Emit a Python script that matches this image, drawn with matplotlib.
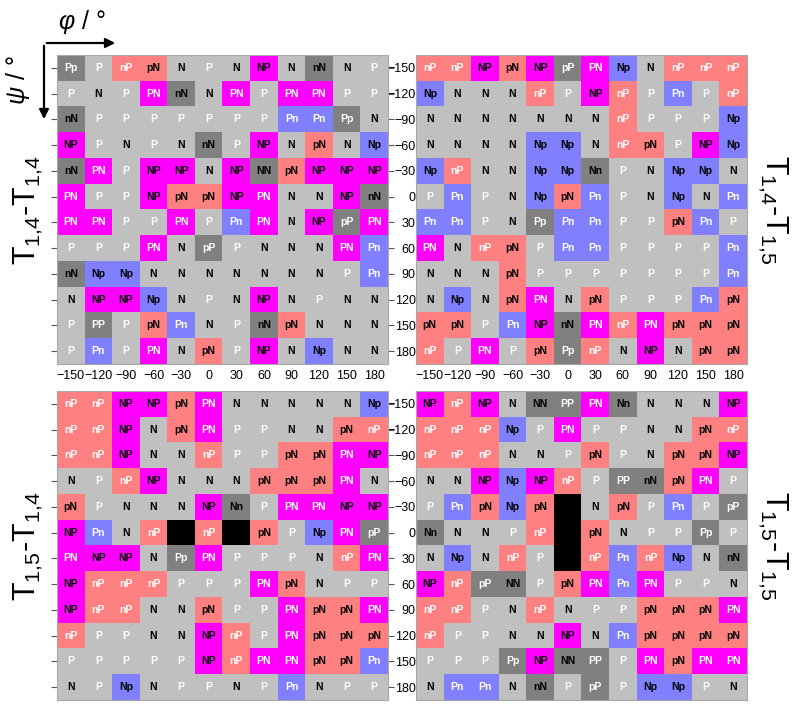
import matplotlib
matplotlib.use('Agg')
import matplotlib.pyplot as plt
import numpy as np

plt.rcParams['font.family'] = ['Liberation Sans', 'DejaVu Sans']
plt.rcParams['mathtext.fontset'] = 'custom'
plt.rcParams['mathtext.rm'] = 'Liberation Sans'
plt.rcParams['mathtext.it'] = 'Liberation Sans:italic'

# dihedral angles (degrees); rows are psi (-150 at top), columns are phi
phi = [-150, -120, -90, -60, -30, 0, 30, 60, 90, 120, 150, 180]
psi = [-150, -120, -90, -60, -30, 0, 30, 60, 90, 120, 150, 180]
tick_labels = ['\u2212150', '\u2212120', '\u221290', '\u221260', '\u221230',
               '0', '30', '60', '90', '120', '150', '180']

# '.' marks a cell with no data (drawn black)
t14_t14 = [
    'Pp P nP pN N P N NP N nN N P',
    'P N P PN nN N PN P PN PN P P',
    'nN P P P P P P P Pn Pn Pp N',
    'NP P N P N nN P NP N pN N Np',
    'nN PN P NP NP N NP NN pN NP NP NP',
    'PN P P NP pN pN NP PN N N NP nN',
    'PN PN P P PN P Pn PN N NP pP PN',
    'P P P PN N pP P N N N PN Pn',
    'nN Np Np N N N N N N N P Pn',
    'N NP NP Np N P N NP N P N N',
    'P PP P pN Pn N P nN pN N N N',
    'P Pn P PN N pN P NP N Np N N',
]
t14_t15 = [
    'nP nP NP pN NP pP PN Np N nP nP nP',
    'Np N N N nP P NP nP P Pn P nP',
    'N N N N N N N nP P P P Np',
    'N N N N Np Np N nP pN P NP Np',
    'Np nP N N Np Np Nn P N Np Np N',
    'P Pn P N Np pN Pn P N Np N Pn',
    'Pn Pn P N Pp Pn Pn P P pN Pn P',
    'PN N nP pN P Pn Pn P P P P Pn',
    'N N N pN P P P P P P P Pn',
    'N Np N pN PN N pN P P P Pn pN',
    'pN pN P Pn NP nN PN nP PN pN pN pN',
    'nP P PN P pN Pp nP N NP N pN pN',
]
t15_t14 = [
    'nP nP NP NP pN PN N N N N N Np',
    'nP nP NP N pN PN P P N N pN nP',
    'nP nP NP N N nP P P pN pN PN NP',
    'N P nP NP N N N pN pN pN PN N',
    'pN P N N N NP Nn P PN PN NP NP',
    'NP Pn N nP . nP . pN P Np PN pP',
    'PN NP NP N Pp PN P P P N nP PN',
    'NP nP nP nP P P P PN pN N P P',
    'NP nP nP N N pN P P PN pN pN PN',
    'nP P P N N NP nP P PN pN pN pN',
    'P P P P P NP nP PN PN pN pN Pn',
    'N P Np N P P N P Pn N P P',
]
t15_t15 = [
    'NP nP NP N NN PP PN Nn N N N NP',
    'nP nP nP Np P PN P P N N pN nP',
    'nP nP nP N N P pN P N pN pN NP',
    'N N NP Np NP nP P PP nN pN PN P',
    'P Pn pN Np pN . N pN P Pn P pP',
    'Nn N N P nP . pN N P P Pp P',
    'N Np N nP P . nP Pn nP Np N nN',
    'NP nP pP NN P pN PN Pn PN P P N',
    'nP nP P N nP N P P pN pN pN PN',
    'nP P P N N NP N Pn pN pN pN pN',
    'P P P Pp NP NN PP P PN pN PN PN',
    'N Pn Pn N nN P pP P Np Np P N',
]


def cell_style(lab):
    if lab == '.':
        return '#000000', 'k'
    txt = 'white' if [c for c in lab if c.isupper()][0] == 'P' else 'black'
    if len(lab) == 1:
        return '#C0C0C0', txt
    if lab[0].lower() == lab[1].lower():
        return '#808080', txt
    if lab[0].islower():
        return '#FF8080', txt
    if lab[1].isupper():
        return '#FF00FF', txt
    return '#8080FF', txt


def draw_panel(ax, rows):
    grid = [r.split() for r in rows]
    rgb = np.zeros((12, 12, 3))
    for i, row in enumerate(grid):
        for j, lab in enumerate(row):
            bg, fg = cell_style(lab)
            rgb[i, j] = matplotlib.colors.to_rgb(bg)
            if lab != '.':
                ax.text(phi[j], psi[i], lab, ha='center', va='center',
                        fontsize=7.5, fontweight='bold', color=fg)
    ax.imshow(rgb, extent=[-165, 195, 195, -165], aspect='auto',
              interpolation='nearest')
    ax.set_xticks(phi)
    ax.set_yticks(psi)
    ax.tick_params(length=0, labelbottom=False, labelleft=False)
    for s in ax.spines.values():
        s.set_color('#A8A8A8')
        s.set_linewidth(0.8)


fig = plt.figure(figsize=(7.97, 7.09), dpi=100)
W, H = 797.0, 709.0


def px_axes(x0, y0, x1, y1):
    return fig.add_axes([x0 / W, 1 - y1 / H, (x1 - x0) / W, (y1 - y0) / H])


ax_tl = px_axes(57, 55, 388, 364)
ax_tr = px_axes(416, 55, 747, 364)
ax_bl = px_axes(57, 391, 388, 700)
ax_br = px_axes(416, 391, 747, 700)

draw_panel(ax_tl, t14_t14)
draw_panel(ax_tr, t14_t15)
draw_panel(ax_bl, t15_t14)
draw_panel(ax_br, t15_t15)

# phi labels under the top panels
for ax in (ax_tl, ax_tr):
    ax.tick_params(axis='x', labelbottom=True, pad=4, labelsize=9)
    ax.set_xticklabels(tick_labels)

# psi labels between the left and right panels
for ax in (ax_tl, ax_bl):
    ax.tick_params(axis='y', right=True, labelright=True, length=4,
                   width=0.8, color='#555555', pad=16, labelsize=9)
    ax.set_yticklabels(tick_labels)
    for t in ax.get_yticklabels():
        t.set_horizontalalignment('right')

# panel names
ts = 22
fig.text(28 / W, 1 - 210 / H, r'$\mathregular{T_{1{,}4}}$-$\mathregular{T_{1{,}4}}$',
         rotation=90, ha='center', va='center', fontsize=ts)
fig.text(28 / W, 1 - 546 / H, r'$\mathregular{T_{1{,}5}}$-$\mathregular{T_{1{,}4}}$',
         rotation=90, ha='center', va='center', fontsize=ts)
fig.text(773 / W, 1 - 210 / H, r'$\mathregular{T_{1{,}4}}$-$\mathregular{T_{1{,}5}}$',
         rotation=-90, ha='center', va='center', fontsize=ts)
fig.text(773 / W, 1 - 546 / H, r'$\mathregular{T_{1{,}5}}$-$\mathregular{T_{1{,}5}}$',
         rotation=-90, ha='center', va='center', fontsize=ts)

# axis arrows in the corner
fig.add_artist(matplotlib.patches.FancyArrowPatch(
    (44 / W, 1 - 43 / H), (118 / W, 1 - 43 / H), transform=fig.transFigure,
    arrowstyle='-|>', mutation_scale=14, lw=1.6, color='k'))
fig.add_artist(matplotlib.patches.FancyArrowPatch(
    (44 / W, 1 - 43 / H), (44 / W, 1 - 122 / H), transform=fig.transFigure,
    arrowstyle='-|>', mutation_scale=14, lw=1.6, color='k'))
fig.text(82 / W, 1 - 22 / H, r'$\varphi$ / °', ha='center', va='center',
         fontsize=18)
fig.text(18 / W, 1 - 80 / H, r'$\psi$ / °', ha='center', va='center',
         fontsize=18, rotation=90)

fig.savefig('out.png', dpi=100)
